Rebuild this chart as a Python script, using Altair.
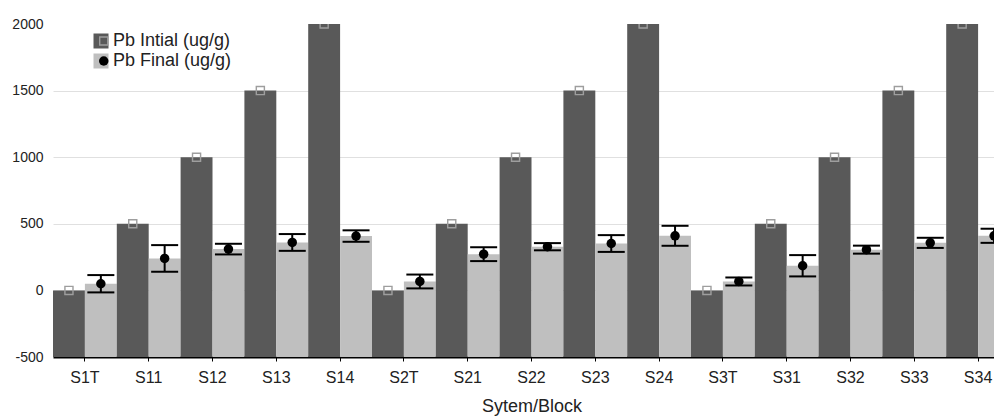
import altair as alt
import pandas as pd

categories = ["S1T", "S11", "S12", "S13", "S14",
              "S2T", "S21", "S22", "S23", "S24",
              "S3T", "S31", "S32", "S33", "S34"]
pb_initial = [0, 500, 1000, 1500, 2000,
              0, 500, 1000, 1500, 2000,
              0, 500, 1000, 1500, 2000]
pb_final = [50, 240, 310, 360, 408,
            67, 272, 328, 352, 410,
            67, 185, 306, 357, 410]
pb_final_err = [65, 100, 40, 63, 43,
                52, 52, 27, 63, 75,
                30, 80, 30, 38, 53]
series_names = ["Pb Intial (ug/g)", "Pb Final (ug/g)"]
y_ticks = [-500, 0, 500, 1000, 1500, 2000]

DARK = "#595959"
LIGHT = "#bfbfbf"
MARK_GRAY = "#9e9e9e"
RING = "M-1,-1H1V1H-1Z M-0.7,-0.7V0.7H0.7V-0.7Z"

rows = []
for c, a, b in zip(categories, pb_initial, pb_final):
    rows.append({"category": c, "series": series_names[0], "value": a})
    rows.append({"category": c, "series": series_names[1], "value": b})
df = pd.DataFrame(rows)

err = pd.DataFrame({
    "category": categories,
    "series": series_names[1],
    "mean": pb_final,
    "lo": [m - e for m, e in zip(pb_final, pb_final_err)],
    "hi": [m + e for m, e in zip(pb_final, pb_final_err)],
})

x_enc = alt.X("category:N", sort=categories,
              scale=alt.Scale(paddingInner=0, paddingOuter=0, range=[0, 957]),
              axis=alt.Axis(title="Sytem/Block", labelAngle=0, labelFontSize=16,
                            labelColor="#222222", titleFontSize=18,
                            titleFontWeight="normal", titleColor="#222222",
                            domainColor="#000000", domainWidth=2,
                            tickColor="#000000", tickSize=4, tickWidth=1,
                            labelPadding=8, titlePadding=12, grid=False))
xo_enc = alt.XOffset("series:N", sort=series_names,
                     scale=alt.Scale(domain=series_names, paddingInner=0, paddingOuter=0))
y_scale = alt.Scale(domain=[-500, 2000], nice=False, zero=False)
y_axis = alt.Axis(title=None, values=y_ticks, labelExpr="'' + datum.value",
                  labelFontSize=14, labelColor="#222222", ticks=False, domain=False,
                  gridColor="#e0e0e0", gridWidth=1, labelPadding=10,
                  gridOpacity={"condition": {"test": "datum.value >= 2000", "value": 0},
                               "value": 1})

base = alt.Chart(df)

bars = base.mark_bar(clip=True).encode(
    x=x_enc,
    xOffset=xo_enc,
    y=alt.Y("value:Q", scale=y_scale, axis=y_axis),
    y2=alt.datum(-500),
    fill=alt.Fill("series:N", sort=series_names,
                  scale=alt.Scale(domain=series_names, range=[DARK, LIGHT]),
                  legend=alt.Legend(title=None, orient="none", legendX=39, legendY=8,
                                    symbolType="square", symbolSize=225,
                                    symbolStrokeWidth=0, labelFontSize=18,
                                    labelColor="#222222", labelOffset=3,
                                    rowPadding=2, padding=0, labelLimit=300)),
)

marker_legend = alt.Legend(title=None, orient="none", legendX=41.75, legendY=8,
                           symbolSize=90, symbolStrokeWidth=0,
                           labelFontSize=18, labelExpr="''", labelOffset=3,
                           rowPadding=2, padding=0)

markers = base.mark_point(filled=True, size=90, strokeWidth=0, clip=True, opacity=1).encode(
    x=x_enc,
    xOffset=xo_enc,
    y=alt.Y("value:Q", scale=y_scale),
    color=alt.Color("series:N", sort=series_names,
                    scale=alt.Scale(domain=series_names, range=[MARK_GRAY, "#000000"]),
                    legend=marker_legend),
    shape=alt.Shape("series:N", sort=series_names,
                    scale=alt.Scale(domain=series_names, range=[RING, "circle"]),
                    legend=marker_legend),
)

ebase = alt.Chart(err)
rules = ebase.mark_rule(color="#000000", strokeWidth=2).encode(
    x=x_enc, xOffset=xo_enc,
    y=alt.Y("lo:Q", scale=y_scale), y2="hi:Q")
cap_lo = ebase.mark_tick(color="#000000", thickness=2, size=27, opacity=1).encode(
    x=x_enc, xOffset=xo_enc, y=alt.Y("lo:Q", scale=y_scale))
cap_hi = ebase.mark_tick(color="#000000", thickness=2, size=27, opacity=1).encode(
    x=x_enc, xOffset=xo_enc, y=alt.Y("hi:Q", scale=y_scale))

chart = alt.layer(bars, rules, cap_lo, cap_hi, markers).resolve_scale(
    fill="independent", color="independent", shape="independent"
).resolve_legend(
    fill="independent", color="independent", shape="independent"
).properties(
    width=941, height=333,
    autosize=alt.AutoSizeParams(type="none"),
    padding={"left": 45, "top": 16, "right": 0, "bottom": 60},
).configure(font="Liberation Sans").configure_view(stroke=None)

chart.save("out.html", embed_options={"renderer": "svg", "actions": False})
